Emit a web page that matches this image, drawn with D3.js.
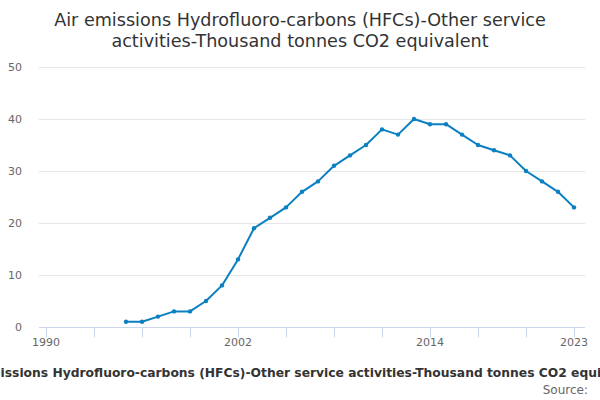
<!DOCTYPE html>
<html>
<head>
<meta charset="utf-8">
<script src="https://cdn.jsdelivr.net/npm/d3@7"></script>
<style>
  body { margin: 0; background: #fff; }
  svg { display: block; font-family: "DejaVu Sans", sans-serif; }
</style>
</head>
<body>
<svg id="chart" width="600" height="400"></svg>
<script>
const titleLines = ["Air emissions Hydrofluoro-carbons (HFCs)-Other service", "activities-Thousand tonnes CO2 equivalent"];
const axisTitle = "Air emissions Hydrofluoro-carbons (HFCs)-Other service activities-Thousand tonnes CO2 equivalent";
const sourceText = "Source:";
const years = [1995,1996,1997,1998,1999,2000,2001,2002,2003,2004,2005,2006,2007,2008,2009,2010,2011,2012,2013,2014,2015,2016,2017,2018,2019,2020,2021,2022,2023];
const values = [1,1,2,3,3,5,8,13,19,21,23,26,28,31,33,35,38,37,40,39,39,37,35,34,33,30,28,26,23];
const xTickLabels = [1990, 2002, 2014, 2023];
const xTickMarks = [1990,1993,1996,1999,2002,2005,2008,2011,2014,2017,2020,2023];
const yTicks = [0,10,20,30,40,50];

const svg = d3.select("#chart");
const plotLeft = 39, plotRight = 585, plotTop = 67, plotBottom = 327;
const x = d3.scaleLinear().domain([1990, 2023]).range([46, 574]);
const y = d3.scaleLinear().domain([0, 50]).range([plotBottom, plotTop]);

// title
svg.append("text").attr("x", 300).attr("y", 26).attr("text-anchor", "middle")
  .attr("font-size", 17.6).attr("fill", "#333").selectAll("tspan").data(titleLines).join("tspan")
  .attr("x", 300).attr("dy", (d, i) => i ? 21 : 0).text(d => d);

// gridlines
svg.append("g").selectAll("line").data(yTicks.filter(d => d > 0)).join("line")
  .attr("x1", plotLeft).attr("x2", plotRight)
  .attr("y1", d => y(d) + 0.5).attr("y2", d => y(d) + 0.5)
  .attr("stroke", "#e6e6e6").attr("stroke-width", 1);

// y labels
svg.append("g").selectAll("text").data(yTicks).join("text")
  .attr("x", 22).attr("y", d => y(d) + 4).attr("text-anchor", "end")
  .attr("font-size", 11).attr("fill", "#666").text(d => d);

// x axis
const xAxis = d3.axisBottom(x).tickValues(xTickMarks).tickSize(10).tickFormat("");
const gx = svg.append("g").attr("transform", `translate(0,${plotBottom + 0.5})`).call(xAxis);
gx.select(".domain").attr("d", `M${plotLeft},0H${plotRight}`).attr("stroke", "#ccd6eb");
gx.selectAll(".tick line").attr("stroke", "#ccd6eb");
svg.append("g").selectAll("text").data(xTickLabels).join("text")
  .attr("x", d => x(d)).attr("y", 346).attr("text-anchor", "middle")
  .attr("font-size", 11).attr("fill", "#666").text(d => d);

// axis title
svg.append("text").attr("x", 300).attr("y", 377).attr("text-anchor", "middle")
  .attr("font-size", 12.3).attr("font-weight", "bold").attr("fill", "#333").text(axisTitle);

// source
svg.append("text").attr("x", 588).attr("y", 394).attr("text-anchor", "end")
  .attr("font-size", 12).attr("fill", "#666").text(sourceText);

// line
const data = years.map((yr, i) => ({yr, v: values[i]}));
const line = d3.line().x(d => x(d.yr)).y(d => y(d.v));
svg.append("path").datum(data).attr("d", line).attr("fill", "none")
  .attr("stroke", "#0a7fc1").attr("stroke-width", 2).attr("stroke-linejoin", "round");
svg.append("g").selectAll("circle").data(data).join("circle")
  .attr("cx", d => x(d.yr)).attr("cy", d => y(d.v)).attr("r", 2.2).attr("fill", "#0a7fc1");
</script>
</body>
</html>
